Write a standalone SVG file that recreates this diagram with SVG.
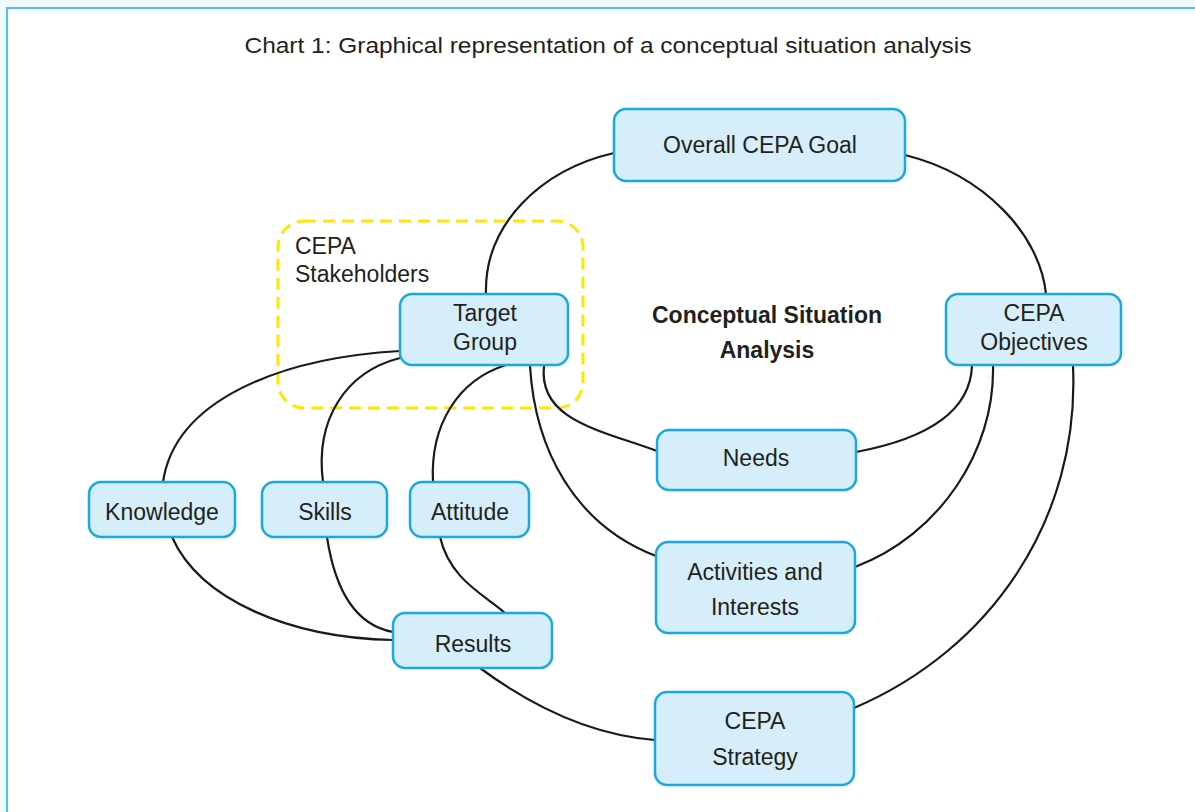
<svg xmlns="http://www.w3.org/2000/svg" width="1195" height="812" viewBox="0 0 1195 812">
<style>
.nd{fill:#d6eef9;stroke:#18a8e2;stroke-width:2.5}
.t{font-family:"Liberation Sans",Arial,sans-serif;font-size:23px;fill:#231f20;text-anchor:middle}
.tl{font-family:"Liberation Sans",Arial,sans-serif;font-size:23px;fill:#231f20}
.b{font-weight:bold}
.c{fill:none;stroke:#1a1a1a;stroke-width:2.2}
</style>
<rect x="0" y="0" width="1195" height="812" fill="#f2f9fc"/>
<rect x="7" y="8" width="1200" height="820" fill="#ffffff" stroke="#4cc3ee" stroke-width="2"/>
<text class="t" x="608" y="53" textLength="727" lengthAdjust="spacingAndGlyphs" style="font-size:22px">Chart 1: Graphical representation of a conceptual situation analysis</text>

<g id="stakeholders">
<rect x="278" y="221" width="305" height="187" rx="26" fill="none" stroke="#ffe600" stroke-width="3" stroke-dasharray="12,7"/>
<text class="tl" x="295" y="254">CEPA</text>
<text class="tl" x="295" y="282">Stakeholders</text>
</g>

<g id="connectors">
<path class="c" d="M486,294 C484,225 540,170 614,153"/>
<path class="c" d="M905,155 C985,175 1040,235 1046,294"/>
<path class="c" d="M400,351 C280,358 175,400 163,482"/>
<path class="c" d="M400,358 C345,372 315,420 323,482"/>
<path class="c" d="M506,365 C458,380 430,425 433,482"/>
<path class="c" d="M530,366 C535,450 575,525 656,556"/>
<path class="c" d="M544,366 C538,420 600,430 657,451"/>
<path class="c" d="M856,452 C920,440 970,415 972,366"/>
<path class="c" d="M855,567 C940,535 995,450 993,366"/>
<path class="c" d="M1073,366 C1080,520 990,650 854,708"/>
<path class="c" d="M172,537 C200,600 290,638 393,640"/>
<path class="c" d="M327,537 C335,590 355,625 393,632"/>
<path class="c" d="M440,537 C450,580 485,595 505,613"/>
<path class="c" d="M480,668 C530,705 590,735 655,740"/>
</g>

<g id="goal"><rect class="nd" x="614" y="109" width="291" height="72" rx="12"/><text class="t" x="760" y="153">Overall CEPA Goal</text></g>
<g id="target"><rect class="nd" x="400" y="294" width="168" height="71" rx="12"/><text class="t" x="485" y="321">Target</text><text class="t" x="485" y="350">Group</text></g>
<g id="objectives"><rect class="nd" x="946" y="294" width="175" height="71" rx="12"/><text class="t" x="1034" y="321">CEPA</text><text class="t" x="1034" y="350">Objectives</text></g>
<g id="center"><text class="t b" x="767" y="323">Conceptual Situation</text><text class="t b" x="767" y="358">Analysis</text></g>
<g id="needs"><rect class="nd" x="657" y="430" width="199" height="60" rx="12"/><text class="t" x="756" y="466">Needs</text></g>
<g id="activities"><rect class="nd" x="656" y="542" width="199" height="91" rx="12"/><text class="t" x="755" y="580">Activities and</text><text class="t" x="755" y="615">Interests</text></g>
<g id="knowledge"><rect class="nd" x="89" y="482" width="146" height="55" rx="12"/><text class="t" x="162" y="520">Knowledge</text></g>
<g id="skills"><rect class="nd" x="262" y="482" width="125" height="55" rx="12"/><text class="t" x="325" y="520">Skills</text></g>
<g id="attitude"><rect class="nd" x="410" y="482" width="119" height="55" rx="12"/><text class="t" x="470" y="520">Attitude</text></g>
<g id="results"><rect class="nd" x="393" y="613" width="159" height="55" rx="12"/><text class="t" x="473" y="652">Results</text></g>
<g id="strategy"><rect class="nd" x="655" y="692" width="199" height="93" rx="12"/><text class="t" x="755" y="729">CEPA</text><text class="t" x="755" y="765">Strategy</text></g>
</svg>
